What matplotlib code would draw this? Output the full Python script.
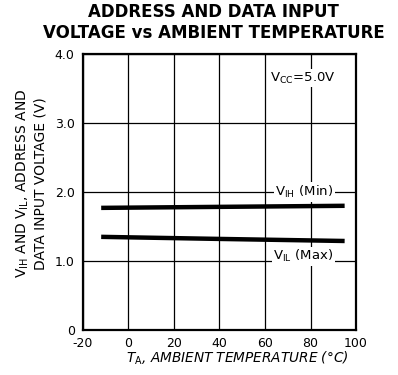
import matplotlib
matplotlib.use("Agg")
import matplotlib.pyplot as plt

# values
temp_vih = [-12, 95]
vih_min = [1.77, 1.80]
temp_vil = [-12, 40, 95]
vil_max = [1.35, 1.32, 1.29]

x_ticks = [-20, 0, 20, 40, 60, 80, 100]
x_tick_labels = ["-20", "0", "20", "40", "60", "80", "100"]
y_ticks = [0, 1.0, 2.0, 3.0, 4.0]
y_tick_labels = ["0", "1.0", "2.0", "3.0", "4.0"]

plt.rcParams["font.family"] = ["DejaVu Sans"]

fig = plt.figure(figsize=(3.98, 3.75), dpi=100)
ax = fig.add_axes([0.2085, 0.12, 0.686, 0.736])

ax.set_xlim(-20, 100)
ax.set_ylim(0, 4.0)
ax.set_xticks(x_ticks)
ax.set_xticklabels(x_tick_labels)
ax.set_yticks(y_ticks)
ax.set_yticklabels(y_tick_labels)
ax.tick_params(length=0, labelsize=9)
ax.tick_params(axis="x", pad=5)
ax.tick_params(axis="y", pad=6)
ax.grid(True, color="black", linewidth=0.9)
for s in ax.spines.values():
    s.set_linewidth(1.6)

ax.plot(temp_vih, vih_min, color="black", linewidth=3.2, solid_capstyle="butt")
ax.plot(temp_vil, vil_max, color="black", linewidth=3.2, solid_capstyle="butt")

box = dict(facecolor="white", edgecolor="none", pad=1)
ax.text(90, 2.0, r"V$_{\mathrm{IH}}$ (Min)", fontsize=9.5, ha="right", va="center", bbox=box)
ax.text(90, 1.07, r"V$_{\mathrm{IL}}$ (Max)", fontsize=9.5, ha="right", va="center", bbox=box)
ax.text(62, 3.65, r"V$_{\mathrm{CC}}$=5.0V", fontsize=9.5, ha="left", va="center", bbox=box)

fig.text(0.596, 0.045, r"T$_{\mathrm{A}}$, AMBIENT TEMPERATURE (°C)", fontsize=9.8,
         style="italic", ha="center", va="center")
fig.text(0.078, 0.51, "V$_{\\mathrm{IH}}$ AND V$_{\\mathrm{IL}}$, ADDRESS AND\nDATA INPUT VOLTAGE (V)",
         fontsize=10, rotation=90, ha="center", va="center", linespacing=1.25)

fig.text(0.537, 0.941, "ADDRESS AND DATA INPUT\nVOLTAGE vs AMBIENT TEMPERATURE",
         ha="center", va="center", fontsize=12, fontweight="bold", linespacing=1.2)

fig.savefig("out.png", dpi=100)
